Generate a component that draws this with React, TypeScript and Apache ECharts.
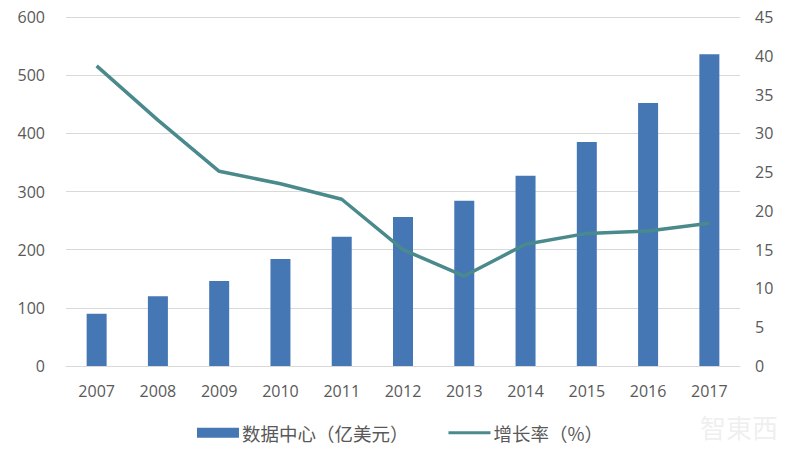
import React, { useEffect, useRef } from "react";
import * as echarts from "echarts";

const years = ["2007", "2008", "2009", "2010", "2011", "2012", "2013", "2014", "2015", "2016", "2017"];
const dataCenter = [90, 120, 146, 184, 222, 256, 284, 327, 385, 452, 536];
const growthRate = [38.7, 31.7, 25.1, 23.5, 21.5, 15.0, 11.6, 15.7, 17.1, 17.4, 18.4];
const barName = "数据中心（亿美元）";
const lineName = "增长率（%）";

export default function App() {
  const ref = useRef<HTMLDivElement>(null);
  useEffect(() => {
    const chart = echarts.init(ref.current!, null, { renderer: "svg" });
    const font = "'Noto Sans CJK SC', 'Noto Sans', sans-serif";
    const numFont = "'Open Sans', 'Noto Sans', sans-serif";
    chart.setOption({
      animation: false,
      backgroundColor: "#ffffff",
      grid: { left: 66, right: 60, top: 17, bottom: 93 },
      legend: {
        bottom: 12,
        left: "center",
        itemGap: 40,
        itemWidth: 42,
        itemHeight: 10,
        textStyle: { fontSize: 18.5, color: "#595959", fontFamily: font, padding: [0, 0, 0, -2] },
        data: [
          { name: barName, icon: "rect" },
          { name: lineName, icon: "path://M0,4 L40,4 L40,7 L0,7 Z" },
        ],
      },
      xAxis: {
        type: "category",
        data: years,
        axisLine: { lineStyle: { color: "#d9d9d9" } },
        axisTick: { show: false },
        axisLabel: { color: "#595959", fontSize: 16, fontFamily: numFont, margin: 17 },
      },
      yAxis: [
        {
          type: "value",
          min: 0,
          max: 600,
          interval: 100,
          axisLine: { show: false },
          axisTick: { show: false },
          splitLine: { lineStyle: { color: "#d9d9d9" } },
          axisLabel: { color: "#595959", fontSize: 16, fontFamily: numFont, margin: 21 },
        },
        {
          type: "value",
          min: 0,
          max: 45,
          interval: 5,
          axisLine: { show: false },
          axisTick: { show: false },
          splitLine: { show: false },
          axisLabel: { color: "#595959", fontSize: 16, fontFamily: numFont, margin: 15 },
        },
      ],
      series: [
        {
          name: barName,
          type: "bar",
          data: dataCenter,
          barWidth: 20,
          itemStyle: { color: "#4677b5" },
        },
        {
          name: lineName,
          type: "line",
          yAxisIndex: 1,
          data: growthRate,
          symbol: "none",
          lineStyle: { color: "#4a8a8c", width: 3.5 },
          itemStyle: { color: "#4a8a8c" },
        },
      ],
      graphic: [
        {
          type: "text",
          right: 22,
          bottom: 20,
          style: {
            text: "智東西",
            fill: "rgba(200,200,200,0.3)",
            font: "26px 'Noto Sans CJK SC'",
          },
        },
      ],
    });
    return () => chart.dispose();
  }, []);
  return <div ref={ref} style={{ width: 800, height: 459, margin: -8 }} />;
}
